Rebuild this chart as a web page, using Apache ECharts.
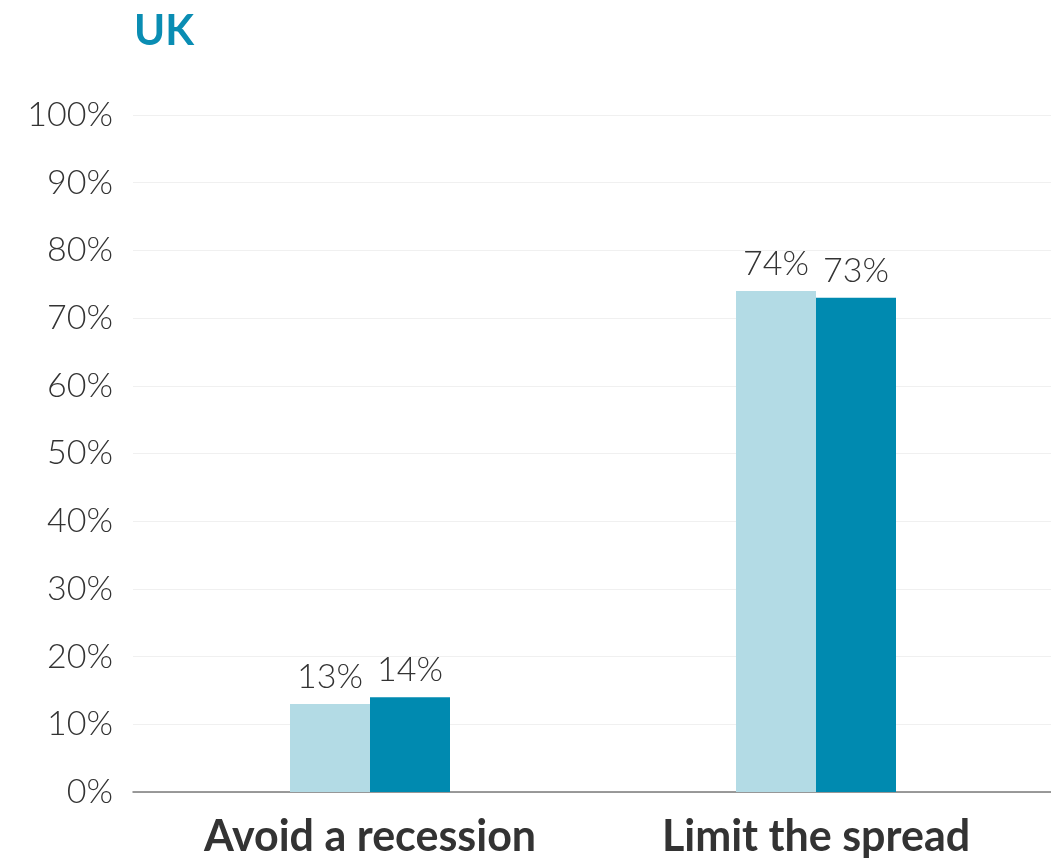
<!DOCTYPE html>
<html>
<head>
<meta charset="utf-8">
<script src="https://cdn.jsdelivr.net/npm/echarts@6/dist/echarts.min.js"></script>
<style>
html,body{margin:0;padding:0;background:#fff;}
#chart{width:1051px;height:865px;}
</style>
</head>
<body>
<div id="chart"></div>
<script>
const titleText = 'UK';
const categories = ['Avoid a recession', 'Limit the spread'];
const seriesA = [13, 74];
const seriesB = [14, 73];
const yTicks = [0, 100, 10];

const chart = echarts.init(document.getElementById('chart'), null, {renderer: 'canvas'});
const FONT = 'Lato';
chart.setOption({
  animation: false,
  backgroundColor: '#ffffff',
  title: {
    text: titleText,
    left: 134,
    top: 10,
    padding: 0,
    textStyle: {fontFamily: FONT, fontSize: 42, fontWeight: 'bold', color: '#0a8db3'}
  },
  grid: [
    {left: 133, right: 0, top: 115, bottom: 73},
    {left: 147, right: 12, top: 115, bottom: 73}
  ],
  xAxis: [
    {
      type: 'category', gridIndex: 0, data: categories,
      axisLine: {show: true, lineStyle: {color: '#7a7a7a', width: 1.5}},
      axisTick: {show: false}, axisLabel: {show: false}, splitLine: {show: false}
    },
    {
      type: 'category', gridIndex: 1, data: categories,
      axisLine: {show: false}, axisTick: {show: false},
      axisLabel: {
        show: true, margin: 24, color: '#333333',
        fontFamily: FONT, fontSize: 43, fontWeight: 'bold'
      }
    }
  ],
  yAxis: [
    {
      type: 'value', gridIndex: 0, min: yTicks[0], max: yTicks[1], interval: yTicks[2],
      axisLine: {show: false}, axisTick: {show: false},
      axisLabel: {
        formatter: '{value}%', margin: 20, color: '#333333',
        fontFamily: FONT, fontSize: 34, fontWeight: 300
      },
      splitLine: {show: true, lineStyle: {color: '#f0f0f0', width: 1}}
    },
    {
      type: 'value', gridIndex: 1, min: yTicks[0], max: yTicks[1], interval: yTicks[2],
      show: false, splitLine: {show: false}
    }
  ],
  series: [
    {
      type: 'bar', xAxisIndex: 1, yAxisIndex: 1, data: seriesA,
      barWidth: 80, barGap: '0%',
      itemStyle: {color: '#b3dbe5'},
      label: {
        show: true, position: 'top', distance: 10, formatter: '{c}%',
        color: '#333333', fontFamily: FONT, fontSize: 34, fontWeight: 300
      }
    },
    {
      type: 'bar', xAxisIndex: 1, yAxisIndex: 1, data: seriesB,
      barWidth: 80, barGap: '0%',
      itemStyle: {color: '#008ab0'},
      label: {
        show: true, position: 'top', distance: 10, formatter: '{c}%',
        color: '#333333', fontFamily: FONT, fontSize: 34, fontWeight: 300
      }
    }
  ]
});
</script>
</body>
</html>
